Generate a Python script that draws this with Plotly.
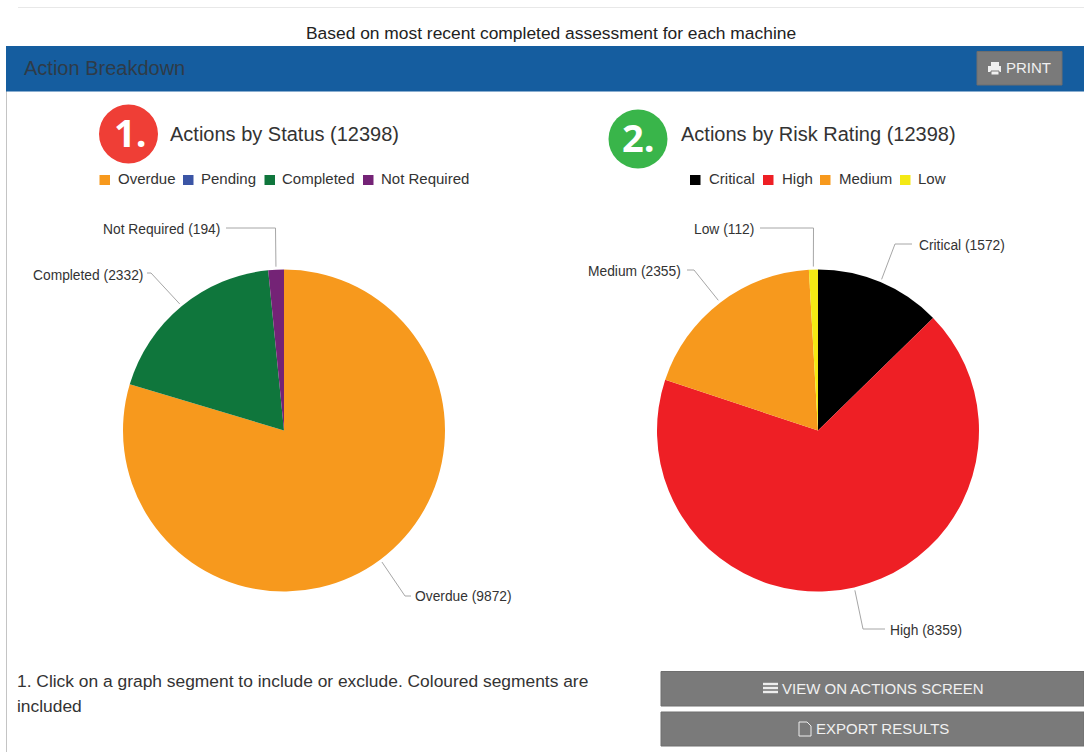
import math
import plotly.graph_objects as go

W, H = 1084, 752

status_labels = ["Overdue", "Pending", "Completed", "Not Required"]
status_values = [9872, 0, 2332, 194]
status_colors = ["#F7991D", "#3B55A5", "#0F763C", "#742376"]

risk_labels = ["Critical", "High", "Medium", "Low"]
risk_values = [1572, 8359, 2355, 112]
risk_colors = ["#000000", "#EE1F25", "#F7991D", "#F4E914"]

status_title = "Actions by Status (12398)"
risk_title = "Actions by Risk Rating (12398)"
subtitle = "Based on most recent completed assessment for each machine"
panel_title = "Action Breakdown"

FONT = "Liberation Sans"
TXT = "#333333"
GREY = "#7A7A7A"
R = 161
C1 = (284, 430.5)
C2 = (818, 430.5)


def px(x):
    return x / W


def py(y):
    return 1 - y / H


shapes = []
annotations = []


def rect(x0, y0, x1, y1, fill, line=None):
    shapes.append(dict(type="rect", xref="paper", yref="paper",
                       x0=px(x0), x1=px(x1), y0=py(y0), y1=py(y1),
                       fillcolor=fill, line=dict(width=1 if line else 0, color=line or fill)))


def hline(x0, y0, x1, y1, color, width=1):
    shapes.append(dict(type="line", xref="paper", yref="paper",
                       x0=px(x0), x1=px(x1), y0=py(y0), y1=py(y1),
                       line=dict(color=color, width=width)))


def circle(cx, cy, r, fill):
    shapes.append(dict(type="circle", xref="paper", yref="paper",
                       x0=px(cx - r), x1=px(cx + r), y0=py(cy - r), y1=py(cy + r),
                       fillcolor=fill, line=dict(width=0)))


def text(x, y, s, size, color=TXT, anchor="left", family=FONT):
    annotations.append(dict(xref="paper", yref="paper", x=px(x), y=py(y), text=s,
                            showarrow=False, xanchor=anchor, yanchor="middle",
                            font=dict(family=family, size=size, color=color),
                            borderpad=0, borderwidth=0))


def mid_point(values, i, center, radius):
    total = sum(values)
    a = (sum(values[:i]) + values[i] / 2) / total * 2 * math.pi
    return center[0] + radius * math.sin(a), center[1] - radius * math.cos(a)


def leader(values, i, center, elbow, end):
    sx, sy = mid_point(values, i, center, R + 3)
    path = f"M{px(sx)},{py(sy)} L{px(elbow[0])},{py(elbow[1])} L{px(end[0])},{py(end[1])}"
    shapes.append(dict(type="path", xref="paper", yref="paper", path=path,
                       line=dict(color="#A6A6A6", width=1)))


# page furniture
hline(18, 7.5, W, 7.5, "#E8E8E8")
rect(6, 91, 7, H, "#C4C4C4")
text(551, 33, subtitle, 17.4, "#222222", "center")
rect(6, 46, W, 91.5, "#155D9F")
text(24, 68, panel_title, 20, "#2F3B47")
rect(977, 51.5, 1062, 85, GREY, "#6E6E6E")
# printer icon
rect(991, 62, 999, 66, "#F0F0F0")
rect(988, 66, 1001, 72, "#F0F0F0")
rect(991, 71, 999, 75, "#F0F0F0", GREY)
text(1006, 67.5, "PRINT", 15, "#F0F0F0")

# headings
circle(128.5, 134, 29.5, "#EF3E36")
text(130, 132, "<b>1.</b>", 38, "#FFFFFF", "center", "Open Sans")
text(170, 133.5, status_title, 20)
circle(638, 139, 29.5, "#39B54A")
text(638, 137, "<b>2.</b>", 38, "#FFFFFF", "center", "Open Sans")
text(681, 133.5, risk_title, 20)

# legends
status_sq = [99.5, 183, 264.5, 363]
status_tx = [117.5, 201, 282, 380.5]
for s, t, lab, col in zip(status_sq, status_tx, status_labels, status_colors):
    rect(s, 175, s + 10.5, 185, col)
    text(t, 179, lab, 15)
risk_sq = [690, 763, 820, 900]
risk_tx = [709, 781.5, 839, 918]
for s, t, lab, col in zip(risk_sq, risk_tx, risk_labels, risk_colors):
    rect(s, 175, s + 10.5, 185, col)
    text(t, 179, lab, 15)

# slice labels with leader lines
def slice_label(values, labels, i, center, elbow, end, tx, ty, anchor):
    leader(values, i, center, elbow, end)
    text(tx, ty, f"{labels[i]} ({values[i]})", 13.8, TXT, anchor)


slice_label(status_values, status_labels, 0, C1, (405, 596), (411, 596), 415, 596.5, "left")
slice_label(status_values, status_labels, 2, C1, (151, 273), (147, 273), 143, 275, "right")
slice_label(status_values, status_labels, 3, C1, (275.5, 228), (226, 228), 220, 229, "right")
slice_label(risk_values, risk_labels, 0, C2, (895, 244), (912, 244), 919, 245.5, "left")
slice_label(risk_values, risk_labels, 1, C2, (863, 629), (885, 629), 890, 630.5, "left")
slice_label(risk_values, risk_labels, 2, C2, (694, 270), (687, 270), 681, 271.5, "right")
slice_label(risk_values, risk_labels, 3, C2, (813.5, 228), (760, 228), 754, 229, "right")

# footer
text(17, 681, "1. Click on a graph segment to include or exclude. Coloured segments are", 17.4)
text(17, 706, "included", 17.4)
rect(661, 671.5, W, 706, GREY, "#6E6E6E")
rect(661, 712, W, 746, GREY, "#6E6E6E")
for yy in (684, 688, 692):
    rect(763, yy - 1.2, 778, yy + 1.2, "#EDEDED")
text(782, 688.5, "VIEW ON ACTIONS SCREEN", 15, "#F0F0F0")
shapes.append(dict(type="path", xref="paper", yref="paper",
                   path=f"M{px(799)},{py(722)} L{px(807)},{py(722)} L{px(811)},{py(726)} "
                        f"L{px(811)},{py(736)} L{px(799)},{py(736)} Z",
                   line=dict(color="#EDEDED", width=1)))
text(816, 728.5, "EXPORT RESULTS", 15, "#F0F0F0")


def pie(labels, values, colors, center, name):
    return go.Pie(labels=labels, values=values, name=name, sort=False, direction="clockwise",
                  rotation=0, textinfo="none", showlegend=False,
                  marker=dict(colors=colors, line=dict(width=0)),
                  domain=dict(x=[px(center[0] - R), px(center[0] + R)],
                              y=[py(center[1] + R), py(center[1] - R)]))


fig = go.Figure([
    pie(status_labels, status_values, status_colors, C1, "Status"),
    pie(risk_labels, risk_values, risk_colors, C2, "Risk"),
])
fig.update_layout(width=W, height=H, margin=dict(l=0, r=0, t=0, b=0, pad=0), autosize=False,
                  paper_bgcolor="#FFFFFF", font=dict(family=FONT, color=TXT),
                  shapes=shapes, annotations=annotations)
fig.write_html("out.html", config=dict(displayModeBar=False),
               post_script="document.body.style.margin='0';document.body.style.overflow='hidden';")
